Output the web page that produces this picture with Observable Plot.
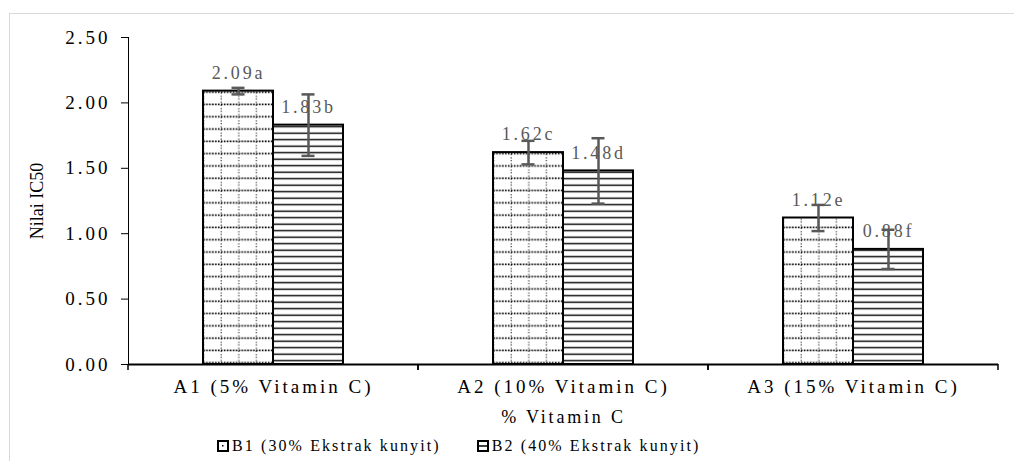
<!DOCTYPE html>
<html>
<head>
<meta charset="utf-8">
<script src="https://cdn.jsdelivr.net/npm/d3@7"></script>
<script src="https://cdn.jsdelivr.net/npm/@observablehq/plot@0.6"></script>
<style>
  html, body { margin: 0; padding: 0; background: #fff; }
  body { width: 1014px; height: 461px; position: relative; overflow: hidden; font-family: "Liberation Serif", "Times New Roman", serif; }
  #border { position: absolute; left: 9px; top: 13px; width: 1020px; height: 470px; border: 1.5px solid #d9d9d9; box-sizing: border-box; }
  #chart { position: absolute; left: 0; top: 0; }
  #chart svg, #chart svg text { font-family: "Liberation Serif", "Times New Roman", serif !important; }
  #chart svg text { letter-spacing: 3px; font-size: 19px; }
  #chart g[aria-label="y-axis"] > text,
  #chart g[aria-label="y-axis label"] text { letter-spacing: 0; font-size: 18px; }
  #chart g[aria-label="fx-axis"] > text,
  #chart g[aria-label="fx-axis label"] text { font-size: 18px; letter-spacing: 2.8px; }
  #chart g[aria-label="text"] text { font-size: 18px; letter-spacing: 2.8px; }
  #legend { position: absolute; top: 437px; left: 217px; display: flex; font-size: 16px; letter-spacing: 2.1px; color: #000; white-space: nowrap; }
  #legend .item { display: flex; align-items: center; margin-right: 36px; }
  #legend svg { margin-right: 3px; }
</style>
</head>
<body>
<div id="border"></div>
<div id="chart"></div>
<div id="legend"></div>
<script>
// ---- data ----
const categories = ["A1 (5% Vitamin C)", "A2 (10% Vitamin C)", "A3 (15% Vitamin C)"];
const seriesKeys = ["B1", "B2"];
const seriesLabels = ["B1 (30% Ekstrak kunyit)", "B2 (40% Ekstrak kunyit)"];
const b1Values = [2.09, 1.62, 1.12];
const b2Values = [1.83, 1.48, 0.88];
const b1Errors = [0.025, 0.09, 0.10];
const b2Errors = [0.235, 0.25, 0.15];
const b1Letters = ["a", "c", "e"];
const b2Letters = ["b", "d", "f"];
const yTicks = [0, 0.5, 1, 1.5, 2, 2.5];
const xLabel = "% Vitamin C";
const yLabel = "Nilai IC50";

// table built from the arrays
const data = [];
categories.forEach((cat, i) => {
  data.push({cat, series: "B1", value: b1Values[i], err: b1Errors[i], label: b1Values[i].toFixed(2) + b1Letters[i]});
  data.push({cat, series: "B2", value: b2Values[i], err: b2Errors[i], label: b2Values[i].toFixed(2) + b2Letters[i]});
});

// short ticks at the category boundaries (Excel-style), repeated per facet
function boundaryTicks(index, scales, values, dimensions) {
  const {marginLeft, marginRight, marginBottom, width, height} = dimensions;
  const y0 = height - marginBottom;
  const g = d3.create("svg:g").attr("stroke", "black").attr("stroke-width", 1.5);
  for (const x of [marginLeft, width - marginRight]) {
    g.append("line").attr("x1", x).attr("x2", x).attr("y1", y0).attr("y2", y0 + 6);
  }
  return g.node();
}

const plot = Plot.plot({
  width: 1014,
  height: 430,
  marginLeft: 127,
  marginRight: 16,
  marginTop: 37,
  marginBottom: 66,
  style: {fontFamily: "'Liberation Serif', 'Times New Roman', serif", fontSize: "18px", color: "black", background: "transparent", overflow: "visible"},
  facet: {data, x: "cat"},
  fx: {domain: categories, paddingInner: 0, paddingOuter: 0, axis: "bottom", tickSize: 0, tickPadding: 15, label: xLabel, labelAnchor: "center", labelOffset: 58, labelArrow: false},
  x: {domain: seriesKeys, paddingInner: 0, paddingOuter: 1.07, axis: null},
  y: {domain: [0, 2.5], ticks: yTicks, tickFormat: d3.format(".2f"), tickSize: 7, tickPadding: 11, line: true, label: yLabel, labelAnchor: "center", labelOffset: 98, labelArrow: false},
  marks: [
    Plot.barY(data, {filter: d => d.series === "B1", x: "series", y: "value", fill: "url(#patB1)", stroke: "black", strokeWidth: 2}),
    Plot.barY(data, {filter: d => d.series === "B2", x: "series", y: "value", fill: "url(#patB2)", stroke: "black", strokeWidth: 2}),
    Plot.text(data, {x: "series", y: "value", text: "label", lineAnchor: "middle", dy: -18, fill: "#595959"}),
    Plot.ruleX(data, {x: "series", y1: d => d.value - d.err, y2: d => d.value + d.err, stroke: "#595959", strokeWidth: 2.5}),
    Plot.tickY(data, {x: "series", y: d => d.value + d.err, insetLeft: 28.5, insetRight: 28.5, stroke: "#595959", strokeWidth: 2.5}),
    Plot.tickY(data, {x: "series", y: d => d.value - d.err, insetLeft: 28.5, insetRight: 28.5, stroke: "#595959", strokeWidth: 2.5}),
    Plot.ruleY([0], {stroke: "black", strokeWidth: 2}),
    boundaryTicks
  ]
});

const svgEl = plot.tagName.toLowerCase() === "svg" ? plot : plot.querySelector("svg");
// patterns
const defs = d3.select(svgEl).insert("defs", ":first-child");
const p1 = defs.append("pattern").attr("id", "patB1").attr("patternUnits", "userSpaceOnUse").attr("width", 17.6).attr("height", 12.3);
p1.append("rect").attr("width", 17.6).attr("height", 12.3).attr("fill", "white");
p1.append("line").attr("x1", 0).attr("x2", 17.6).attr("y1", 6).attr("y2", 6).attr("stroke", "black").attr("stroke-width", 1.6).attr("stroke-dasharray", "1.6 1.3");
p1.append("line").attr("x1", 9).attr("x2", 9).attr("y1", 0).attr("y2", 12.3).attr("stroke", "#222").attr("stroke-width", 1.1).attr("stroke-dasharray", "1.2 2");
const p2 = defs.append("pattern").attr("id", "patB2").attr("patternUnits", "userSpaceOnUse").attr("width", 10).attr("height", 6.5);
p2.append("rect").attr("width", 10).attr("height", 6.5).attr("fill", "white");
p2.append("line").attr("x1", 0).attr("x2", 10).attr("y1", 3.2).attr("y2", 3.2).attr("stroke", "black").attr("stroke-width", 1.4);

document.getElementById("chart").appendChild(plot);

// legend
const legend = d3.select("#legend");
seriesKeys.forEach((key, i) => {
  const item = legend.append("div").attr("class", "item");
  const s = item.append("svg").attr("width", 12).attr("height", 12);
  s.append("rect").attr("x", 1).attr("y", 1).attr("width", 10).attr("height", 10).attr("fill", "white").attr("stroke", "black").attr("stroke-width", 2);
  if (key === "B1") {
    s.append("rect").attr("x", 5).attr("y", 5).attr("width", 1.5).attr("height", 1.5).attr("fill", "black");
  } else {
    s.append("line").attr("x1", 1).attr("x2", 11).attr("y1", 6).attr("y2", 6).attr("stroke", "black").attr("stroke-width", 1.5);
  }
  item.append("span").text(seriesLabels[i]);
});
</script>
</body>
</html>
